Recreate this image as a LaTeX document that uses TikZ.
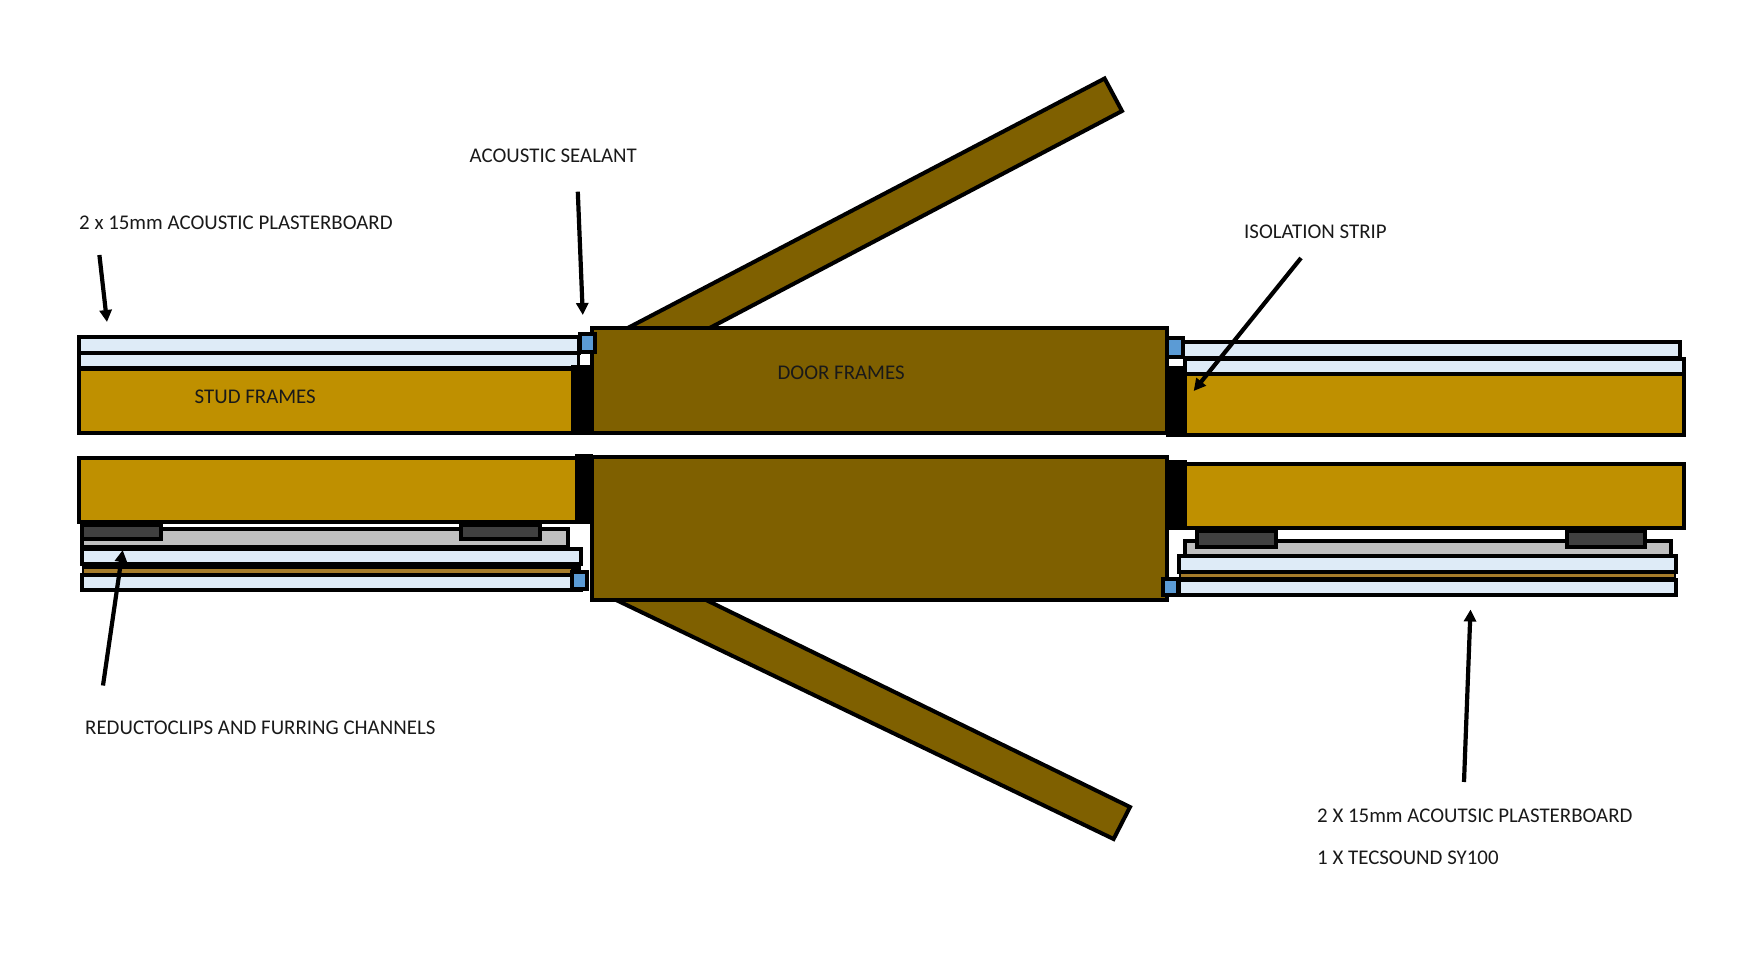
\documentclass[tikz,border=0pt]{standalone}
\usepackage{fontspec}
\setmainfont{Carlito}
\usetikzlibrary{arrows.meta}
\definecolor{studcol}{HTML}{BF9000}
\definecolor{doorcol}{HTML}{7F6000}
\definecolor{boardcol}{HTML}{DEEBF7}
\definecolor{sealcol}{HTML}{5B9BD5}
\definecolor{clipcol}{HTML}{404040}
\definecolor{channelcol}{HTML}{BFBFBF}
\definecolor{tecsoundcol}{HTML}{A67C2A}
\tikzset{
  part/.style={draw=black,line width=4pt,miter limit=10},
  studbox/.style={part,fill=studcol},
  doorbox/.style={part,fill=doorcol},
  boardbox/.style={part,fill=boardcol},
  sealbox/.style={part,fill=sealcol},
  clipbox/.style={part,fill=clipcol},
  channelbox/.style={part,fill=channelcol},
  tecbox/.style={fill=tecsoundcol},
  gapbox/.style={fill=white},
  stripbox/.style={fill=black},
  label/.style={inner sep=0pt,anchor=base west,font=\fontsize{20.9}{24}\selectfont,text=black!90},
  pointer/.style={line width=4.2pt,-{Triangle[length=12pt,width=12pt]}}
}
\begin{document}
\begin{tikzpicture}[x=1pt,y=-1pt]
  \useasboundingbox (0,0) rectangle (1754,966);
  % door leaves
  \draw[doorbox] (622,331) -- (1104.6,78.5) -- (1122,111) -- (704,331) -- cycle;
  \draw[doorbox] (612,598) -- (1113.6,839) -- (1130,807) -- (702,598) -- cycle;
  % left wall, upper side
  \draw[boardbox] (79,337) rectangle (579,352.5);
  \draw[boardbox] (79,352.5) rectangle (579,367.5);
  \draw[studbox] (79,369) rectangle (573,432.5);
  \fill[stripbox] (571,365) rectangle (593,434.5);
  \fill[gapbox] (580,354.5) rectangle (590,365);
  % left wall, lower side
  \draw[studbox] (79,457.5) rectangle (577,521.5);
  \fill[stripbox] (575,454) rectangle (593,523.5);
  \draw[channelbox] (81.5,529) rectangle (568,546.5);
  \draw[clipbox] (81.5,525) rectangle (160.5,539);
  \draw[clipbox] (461,525) rectangle (540,539);
  \draw[boardbox] (81.5,549) rectangle (581,563.5);
  \fill[black] (81.5,563.5) rectangle (581,578);
  \fill[tecbox] (83.5,569) rectangle (570.5,572.5);
  \draw[boardbox] (81.5,575) rectangle (581,589.5);
  % door frames
  \draw[doorbox] (592,328) rectangle (1167,432.5);
  \draw[doorbox] (592,457) rectangle (1167,599.5);
  % right wall, upper side
  \draw[boardbox] (1181,342) rectangle (1680,357.5);
  \draw[boardbox] (1185,359) rectangle (1683.5,374);
  \draw[studbox] (1185,374) rectangle (1683.5,435);
  \fill[stripbox] (1166,365.7) rectangle (1187,437);
  \fill[gapbox] (1169,358.5) rectangle (1182.5,365.7);
  % right wall, lower side
  \draw[studbox] (1185,464) rectangle (1683.5,528);
  \fill[stripbox] (1169,460) rectangle (1187,530);
  \draw[channelbox] (1184.5,541) rectangle (1671,556);
  \draw[clipbox] (1197,531) rectangle (1276,547);
  \draw[clipbox] (1567,531) rectangle (1645,547);
  \draw[boardbox] (1178.5,556) rectangle (1676,571.5);
  \fill[black] (1178.5,571.5) rectangle (1676,582);
  \fill[tecbox] (1180.5,573.5) rectangle (1674,577);
  \draw[boardbox] (1178.5,580) rectangle (1676,594.5);
  % acoustic sealant
  \draw[sealbox] (580,334) rectangle (594.5,351.5);
  \draw[sealbox] (572.3,571.5) rectangle (587,589);
  \draw[sealbox] (1167,338) rectangle (1182.5,356.5);
  \draw[sealbox] (1163,578.5) rectangle (1178,595);
  % labels
  \node[label] (boardlabel) at (79,229) {2 x 15mm ACOUSTIC PLASTERBOARD};
  \node[label] (sealantlabel) at (469.5,162) {ACOUSTIC SEALANT};
  \node[label] (isolationlabel) at (1244,238.5) {ISOLATION STRIP};
  \node[label] (studlabel) at (194.5,403) {STUD FRAMES};
  \node[label] (doorlabel) at (777.4,379.5) {DOOR FRAMES};
  \node[label] (cliplabel) at (85,734) {REDUCTOCLIPS AND FURRING CHANNELS};
  \node[label] (wallalabel) at (1317,822) {2 X 15mm ACOUTSIC PLASTERBOARD};
  \node[label] (wallblabel) at (1317,864.5) {1 X TECSOUND SY100};
  % pointers
  \coordinate (boardfrom) at (99.4,255);
  \coordinate (boardto) at (107,322);
  \coordinate (sealantfrom) at (577.8,191.7);
  \coordinate (sealantto) at (582.8,315);
  \coordinate (isolationfrom) at (1301,258);
  \coordinate (isolationto) at (1193.7,391);
  \coordinate (clipfrom) at (103,685.5);
  \coordinate (clipto) at (122.7,550);
  \coordinate (tecfrom) at (1464,782);
  \coordinate (tecto) at (1470.5,609.5);
  \draw[pointer] (boardfrom) -- (boardto);
  \draw[pointer] (sealantfrom) -- (sealantto);
  \draw[pointer] (isolationfrom) -- (isolationto);
  \draw[pointer] (clipfrom) -- (clipto);
  \draw[pointer] (tecfrom) -- (tecto);
\end{tikzpicture}
\end{document}
